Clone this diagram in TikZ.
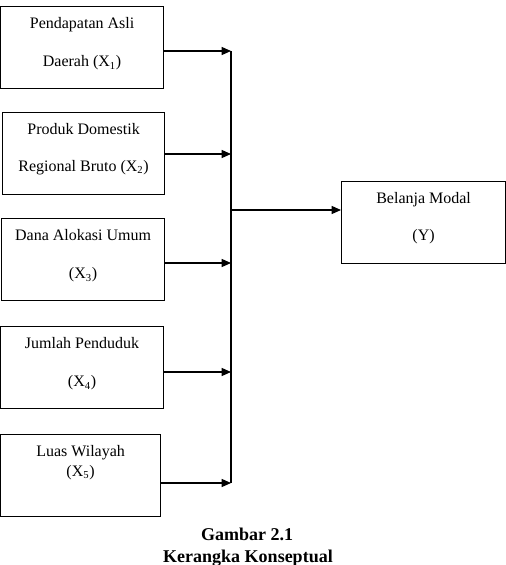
\documentclass[tikz,border=0pt]{standalone}
\usepackage{fontspec}
\setmainfont{Liberation Serif}
\usetikzlibrary{arrows.meta}

\tikzset{
  varbox/.style={draw, line width=0.9pt, inner sep=0pt, anchor=north west, minimum height=61.5pt},
  vartext/.style={inner sep=0pt, anchor=north, align=center, font=\fontsize{12}{14}\selectfont},
  flow/.style={line width=0.9pt, -{Triangle[length=7pt,width=6pt]}}
}

\begin{document}
\begin{tikzpicture}[x=0.75pt,y=0.75pt,yscale=-1,xscale=1]
    \useasboundingbox (0,0) rectangle (506,565);

    % Boxes
    \node [varbox, minimum width=122.25pt] (pad) at (0,6) {};
    \node [varbox, minimum width=121.5pt] (pdrb) at (2,112) {};
    \node [varbox, minimum width=122.25pt] (dau) at (1,218) {};
    \node [varbox, minimum width=122.25pt] (pend) at (0,326) {};
    \node [varbox, minimum width=120pt] (luas) at (0,434) {};
    \node [varbox, minimum width=123pt] (modal) at (341,181) {};

    % Text Node
    \node [vartext] (padtxt) at ([yshift=8pt]pad.north) {Pendapatan Asli\\[15pt]Daerah (X\textsubscript{1})};
    % Text Node
    \node [vartext] (pdrbtxt) at ([yshift=8pt]pdrb.north) {Produk Domestik\\[14pt]Regional Bruto (X\textsubscript{2})};
    % Text Node
    \node [vartext] (dautxt) at ([yshift=8pt]dau.north) {Dana Alokasi Umum\\[15pt](X\textsubscript{3})};
    % Text Node
    \node [vartext] (pendtxt) at ([yshift=8pt]pend.north) {Jumlah Penduduk\\[15pt](X\textsubscript{4})};
    % Text Node
    \node [vartext] (luastxt) at ([yshift=8pt]luas.north) {Luas Wilayah\\[1pt](X\textsubscript{5})};
    % Text Node
    \node [vartext] (modaltxt) at ([yshift=8pt]modal.north) {Belanja Modal\\[14pt](Y)};

    % Joints on the collecting line
    \coordinate (j1) at (231,51);
    \coordinate (j2) at (231,154);
    \coordinate (j3) at (231,263);
    \coordinate (j4) at (231,372);
    \coordinate (j5) at (231,483);
    \coordinate (jy) at (231,210);

    % Arrows
    \draw [line width=0.9pt] (j1) -- (j5);
    \draw [flow] (pad.east |- j1) -- (j1);
    \draw [flow] (pdrb.east |- j2) -- (j2);
    \draw [flow] (dau.east |- j3) -- (j3);
    \draw [flow] (pend.east |- j4) -- (j4);
    \draw [flow] (luas.east |- j5) -- (j5);
    \draw [flow] (jy) -- (jy -| modal.west);

    % Caption
    \node [anchor=base, inner sep=0pt, font=\fontsize{13.5}{16}\selectfont\bfseries] (capnum) at (247,540) {Gambar 2.1};
    \node [anchor=base, inner sep=0pt, font=\fontsize{13.5}{16}\selectfont\bfseries] (captitle) at (248,562) {Kerangka Konseptual};
\end{tikzpicture}
\end{document}
